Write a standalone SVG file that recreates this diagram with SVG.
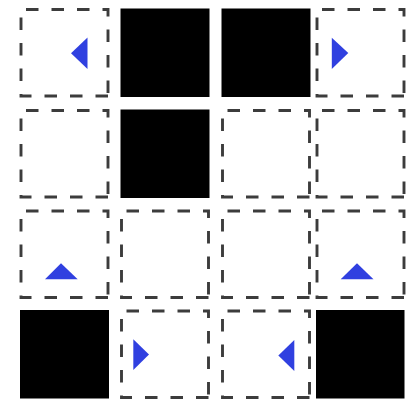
<svg xmlns="http://www.w3.org/2000/svg" xmlns:xlink="http://www.w3.org/1999/xlink" width="409" height="405" viewBox="0 0 409 405">
  <style>
    .dash { fill: none; stroke: #3c3c3c; stroke-width: 2.9; stroke-dasharray: 12.5 13; }
    .blk { fill: #000; }
    .tri { fill: #3040e0; }
  </style>
  <defs>
    <path id="dcell" class="dash" d="M87 86.5 H0 V0 H87 Z"/>
  </defs>
  <rect width="409" height="405" fill="#fff"/>

  <!-- Row 0 -->
  <g id="cell-0-0">
    <use href="#dcell" xlink:href="#dcell" x="21" y="9.5"/>
    <polygon class="tri" points="71,53.3 87.5,37.5 87.5,69"/>
  </g>
  <g id="cell-0-1"><rect class="blk" x="120.5" y="8.5" width="89" height="88.5"/></g>
  <g id="cell-0-2"><rect class="blk" x="221.5" y="8.5" width="89" height="88.5"/></g>
  <g id="cell-0-3">
    <use href="#dcell" xlink:href="#dcell" x="317" y="9.5"/>
    <polygon class="tri" points="348.3,53 331.8,37.7 331.8,69"/>
  </g>

  <!-- Row 1 -->
  <g id="cell-1-0"><use href="#dcell" xlink:href="#dcell" x="21" y="110.5"/></g>
  <g id="cell-1-1"><rect class="blk" x="120.5" y="109.5" width="89" height="88.5"/></g>
  <g id="cell-1-2"><use href="#dcell" xlink:href="#dcell" x="222.5" y="110.5"/></g>
  <g id="cell-1-3"><use href="#dcell" xlink:href="#dcell" x="317" y="110.5"/></g>

  <!-- Row 2 -->
  <g id="cell-2-0">
    <use href="#dcell" xlink:href="#dcell" x="21" y="211"/>
    <polygon class="tri" points="61,263.3 45,279.3 77.7,279.3"/>
  </g>
  <g id="cell-2-1"><use href="#dcell" xlink:href="#dcell" x="121.5" y="211"/></g>
  <g id="cell-2-2"><use href="#dcell" xlink:href="#dcell" x="222.5" y="211"/></g>
  <g id="cell-2-3">
    <use href="#dcell" xlink:href="#dcell" x="317" y="211"/>
    <polygon class="tri" points="357,263.3 340.7,279.3 373.5,279.3"/>
  </g>

  <!-- Row 3 -->
  <g id="cell-3-0"><rect class="blk" x="20" y="310" width="89" height="88.5"/></g>
  <g id="cell-3-1">
    <use href="#dcell" xlink:href="#dcell" x="121.5" y="311"/>
    <polygon class="tri" points="149,354.5 133.3,339.2 133.3,370"/>
  </g>
  <g id="cell-3-2">
    <use href="#dcell" xlink:href="#dcell" x="222.5" y="311"/>
    <polygon class="tri" points="278.3,355.5 294.3,340 294.3,371"/>
  </g>
  <g id="cell-3-3"><rect class="blk" x="316" y="310" width="88.5" height="88.5"/></g>
</svg>
